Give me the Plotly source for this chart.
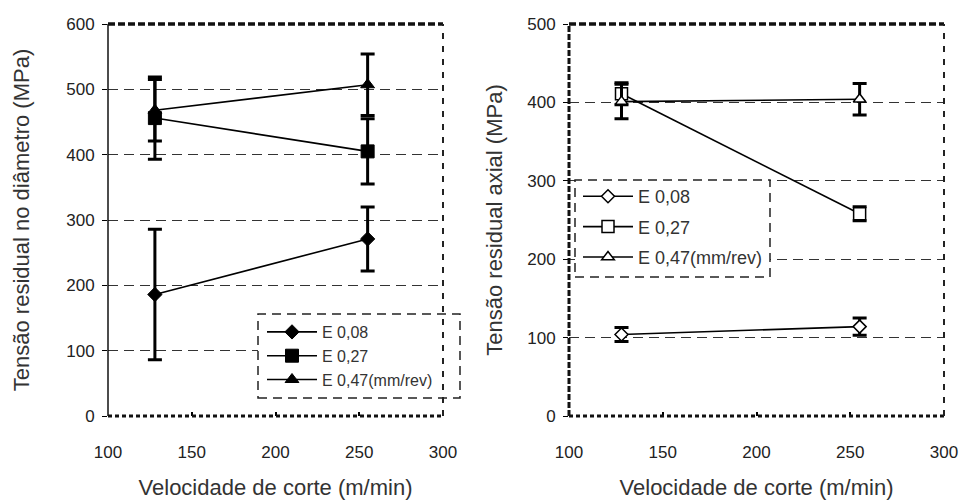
import plotly.graph_objects as go

# ---------------- data ----------------
velocidade = [128, 255]
series_names = ["E 0,08", "E 0,27", "E 0,47(mm/rev)"]

diam_E008 = [186, 271]
diam_E008_err = [100, 49]
diam_E027 = [456, 405]
diam_E027_err = [63, 50]
diam_E047 = [468, 507]
diam_E047_err = [47, 47]

axial_E008 = [104, 114]
axial_E008_err = [9, 11]
axial_E027 = [411, 258]
axial_E027_err = [14, 9]
axial_E047 = [401, 404]
axial_E047_err = [22, 20]

x_ticks = [100, 150, 200, 250, 300]
y1_ticks = [0, 100, 200, 300, 400, 500, 600]
y2_ticks = [0, 100, 200, 300, 400, 500]

FONT = "Arial, Liberation Sans, sans-serif"
W, H = 962, 502

def px_x(p):
    return p / W

def px_y(p):
    return 1 - p / H

fig = go.Figure()

symbols = ["diamond", "square", "triangle-up"]
sizes = [11, 13, 12]
diam_vals = [diam_E008, diam_E027, diam_E047]
diam_errs = [diam_E008_err, diam_E027_err, diam_E047_err]
axial_vals = [axial_E008, axial_E027, axial_E047]
axial_errs = [axial_E008_err, axial_E027_err, axial_E047_err]

for i in range(3):
    fig.add_trace(go.Scatter(
        x=velocidade, y=diam_vals[i], name=series_names[i],
        mode="lines+markers", xaxis="x", yaxis="y",
        legend="legend", legendgroup="a%d" % i,
        line=dict(color="black", width=1.6),
        marker=dict(symbol=symbols[i], size=sizes[i], color="black",
                    line=dict(color="black", width=1)),
        error_y=dict(type="data", array=diam_errs[i], visible=True,
                     color="black", thickness=3, width=7),
    ))

for i in range(3):
    fig.add_trace(go.Scatter(
        x=velocidade, y=axial_vals[i], name=series_names[i],
        mode="lines+markers", xaxis="x2", yaxis="y2",
        legend="legend2", legendgroup="b%d" % i,
        line=dict(color="black", width=1.6),
        marker=dict(symbol=symbols[i], size=sizes[i] - 1, color="white",
                    line=dict(color="black", width=1.5)),
        error_y=dict(type="data", array=axial_errs[i], visible=True,
                     color="black", thickness=3, width=7),
    ))

tickfont = dict(family=FONT, size=17, color="#222")
titlefont = dict(family=FONT, size=22, color="#333")
grid = dict(showgrid=True, gridcolor="#333", gridwidth=1.2, griddash="10px,6px")

xd1 = [px_x(108), px_x(443)]
xd2 = [px_x(569), px_x(944)]
yd = [px_y(416), px_y(24)]

fig.update_layout(
    width=W, height=H,
    margin=dict(l=0, r=0, t=0, b=0, autoexpand=False),
    paper_bgcolor="white", plot_bgcolor="white",
    font=dict(family=FONT, color="#222"),
    xaxis=dict(domain=xd1, range=[100, 300], tickvals=x_ticks, showgrid=False,
               zeroline=False, showline=False, ticks="inside", ticklen=4,
               tickcolor="black", tickwidth=1.5, ticklabelstandoff=24,
               tickfont=tickfont, anchor="y", automargin=False,
               title=dict(text="Velocidade de corte (m/min)", font=titlefont, standoff=18)),
    yaxis=dict(domain=yd, range=[0, 600], tickvals=y1_ticks, zeroline=False,
               showline=False, ticks="outside", ticklen=5, tickcolor="black",
               tickwidth=1.2, ticklabelstandoff=4, tickfont=tickfont, anchor="x",
               automargin=False,
               title=dict(text="Tensão residual no diâmetro (MPa)", font=titlefont, standoff=30),
               **grid),
    xaxis2=dict(domain=xd2, range=[100, 300], tickvals=x_ticks, showgrid=False,
                zeroline=False, showline=False, ticks="inside", ticklen=4,
                tickcolor="black", tickwidth=1.5, ticklabelstandoff=24,
                tickfont=tickfont, anchor="y2", automargin=False,
                title=dict(text="Velocidade de corte (m/min)", font=titlefont, standoff=18)),
    yaxis2=dict(domain=yd, range=[0, 500], tickvals=y2_ticks, zeroline=False,
                showline=False, ticks="outside", ticklen=5, tickcolor="black",
                tickwidth=1.2, ticklabelstandoff=4, tickfont=tickfont, anchor="x2",
                automargin=False,
                title=dict(text="Tensão residual axial (MPa)", font=titlefont, standoff=18),
                **grid),
    legend=dict(x=px_x(262), y=px_y(315), xanchor="left", yanchor="top",
                bgcolor="rgba(0,0,0,0)", borderwidth=0, itemwidth=50,
                tracegroupgap=0,
                font=dict(family=FONT, size=16, color="#333")),
    legend2=dict(x=px_x(578), y=px_y(178), xanchor="left", yanchor="top",
                 bgcolor="rgba(0,0,0,0)", borderwidth=0, itemwidth=50,
                 tracegroupgap=4,
                 font=dict(family=FONT, size=18, color="#333")),
    showlegend=True,
)

shapes = []
# legend boxes (dashed, white filled)
shapes.append(dict(type="rect", xref="paper", yref="paper",
                   x0=px_x(258), x1=px_x(460), y0=px_y(398), y1=px_y(314),
                   fillcolor="white", line=dict(color="#222", width=1.5, dash="9px,6px"),
                   layer="above"))
shapes.append(dict(type="rect", xref="paper", yref="paper",
                   x0=px_x(575), x1=px_x(770), y0=px_y(277), y1=px_y(180),
                   fillcolor="white", line=dict(color="#222", width=1.5, dash="9px,6px"),
                   layer="above"))

for xr, yr, left_solid in [("x", "y", True), ("x2", "y2", False)]:
    xdom, ydom = xr + " domain", yr + " domain"
    # top border
    shapes.append(dict(type="line", xref=xdom, yref=ydom, x0=0, x1=1, y0=1, y1=1,
                       line=dict(color="#111", width=3.5, dash="7px,3px"), layer="above"))
    # bottom border
    shapes.append(dict(type="line", xref=xdom, yref=ydom, x0=0, x1=1, y0=0, y1=0,
                       line=dict(color="#111", width=3, dash="4px,3px"), layer="above"))
    # right border
    shapes.append(dict(type="line", xref=xdom, yref=ydom, x0=1, x1=1, y0=0, y1=1,
                       line=dict(color="#222", width=2, dash="6px,7px"), layer="above"))
    # left axis
    if left_solid:
        shapes.append(dict(type="line", xref=xdom, yref=ydom, x0=0, x1=0, y0=0, y1=1,
                           line=dict(color="#111", width=1.5), layer="above"))
    else:
        shapes.append(dict(type="line", xref=xdom, yref=ydom, x0=0, x1=0, y0=0, y1=1,
                           line=dict(color="#111", width=3, dash="6px,2px"), layer="above"))

fig.update_layout(shapes=shapes)

fig.write_html(
    "out.html",
    config={"displayModeBar": False},
    post_script="document.body.style.margin='0';document.body.style.overflow='hidden';",
)
